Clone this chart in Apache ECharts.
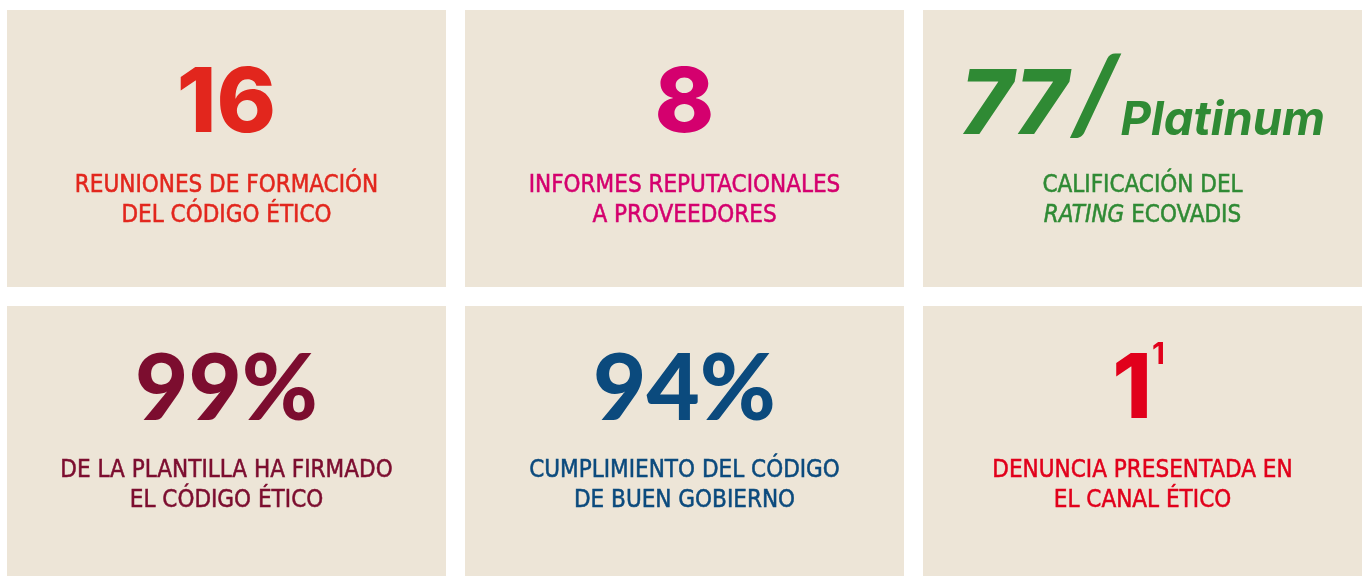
<!DOCTYPE html>
<html>
<head>
<meta charset="utf-8">
<script src="https://cdn.jsdelivr.net/npm/echarts@6/dist/echarts.min.js"></script>
<style>
  html, body { margin: 0; padding: 0; background: #fff; }
  #main { width: 1368px; height: 576px; }
</style>
</head>
<body>
<div id="main"></div>
<script>
// datos de las fichas (columna, fila)
const cols = [0, 1, 2, 0, 1, 2];
const rows = [0, 0, 0, 1, 1, 1];
const values = ['16', '8', '77', '99%', '94%', '1'];
const extras = ['', '', 'Platinum', '', '', '1'];
const labelLine1 = [
  'REUNIONES DE FORMACIÓN',
  'INFORMES REPUTACIONALES',
  'CALIFICACIÓN DEL',
  'DE LA PLANTILLA HA FIRMADO',
  'CUMPLIMIENTO DEL CÓDIGO',
  'DENUNCIA PRESENTADA EN'
];
const labelLine2 = [
  'DEL CÓDIGO ÉTICO',
  'A PROVEEDORES',
  '{i|RATING} ECOVADIS',
  'EL CÓDIGO ÉTICO',
  'DE BUEN GOBIERNO',
  'EL CANAL ÉTICO'
];

const colors = ['#E2261D', '#D4006E', '#2F8A34', '#7C0D2F', '#0B4A7D', '#E1001B'];
const tileColor = '#EDE5D7';
const numFont = 'Inter, Lato, "Noto Sans", sans-serif';
const pctFont = 'Lato, Inter, "Noto Sans", sans-serif';
const labelFont = '"Liberation Sans Narrow", "DejaVu Sans Condensed", "Noto Sans", sans-serif';

const chart = echarts.init(document.getElementById('main'));

const renderItem = (params, api) => {
  const col = api.value(0);
  const row = api.value(1);
  const i = api.value(2);
  const p0 = api.coord([col, row]);
  const p1 = api.coord([col + 1, row + 1]);
  const gap = 19;
  const x = p0[0];
  const y = p0[1];
  const w = p1[0] - p0[0] - gap;
  const h = p1[1] - p0[1] - gap;
  const cx = x + w / 2;
  const c = colors[i];
  const numY = y + (row === 0 ? 92 : 82);
  const lab1 = y + (row === 0 ? 176 : 165);
  const isPct = values[i].indexOf('%') > -1;

  // número grande, con variantes
  let numText = '{n|' + values[i] + '}';
  if (extras[i] === 'Platinum') {
    numText = '{n|' + values[i] + '}{s|/}{p|' + extras[i] + '}';
  } else if (extras[i]) {
    numText = '{n|' + values[i] + '}{sup|' + extras[i] + '}';
  }

  return {
    type: 'group',
    children: [
      {
        type: 'rect',
        shape: { x: x, y: y, width: w, height: h },
        style: { fill: tileColor }
      },
      {
        type: 'text',
        style: {
          text: numText,
          x: extras[i] === '1' ? cx - 4 : cx,
          y: numY,
          align: 'center',
          verticalAlign: 'middle',
          rich: {
            n: {
              fontFamily: isPct ? pctFont : numFont,
              fontWeight: isPct ? 900 : 800,
              fontSize: isPct ? 92 : 90,
              fontStyle: extras[i] === 'Platinum' ? 'italic' : 'normal',
              fill: c, lineHeight: 96, verticalAlign: 'bottom'
            },
            s: {
              fontFamily: pctFont, fontWeight: 900, fontSize: 108, fontStyle: 'italic',
              fill: c, lineHeight: 100, verticalAlign: 'bottom', padding: [0, 2, 0, 4]
            },
            p: {
              fontFamily: numFont, fontWeight: 700, fontSize: 47, fontStyle: 'italic',
              fill: c, lineHeight: 58, verticalAlign: 'bottom', padding: [0, 0, 8, 0]
            },
            sup: {
              fontFamily: numFont, fontWeight: 700, fontSize: 30,
              fill: c, lineHeight: 6, verticalAlign: 'top'
            }
          }
        }
      },
      {
        type: 'text',
        style: {
          text: labelLine1[i], x: cx, y: lab1,
          align: 'center', verticalAlign: 'middle',
          fontFamily: labelFont, fontSize: 24, fill: c,
          stroke: c, lineWidth: 0.5
        }
      },
      {
        type: 'text',
        style: {
          text: labelLine2[i], x: cx, y: lab1 + 30,
          align: 'center', verticalAlign: 'middle',
          fontFamily: labelFont, fontSize: 24, fill: c,
          stroke: c, lineWidth: 0.5,
          rich: {
            i: {
              fontFamily: labelFont, fontSize: 24, fontStyle: 'italic', fill: c,
              stroke: c, lineWidth: 0.5
            }
          }
        }
      }
    ]
  };
};

const options = {
  backgroundColor: '#ffffff',
  animation: false,
  grid: { left: 7, top: 10, width: 1374, height: 592, outerBoundsMode: 'none' },
  xAxis: { type: 'value', min: 0, max: 3, show: false },
  yAxis: { type: 'value', min: 0, max: 2, inverse: true, show: false },
  series: [
    {
      type: 'custom',
      renderItem: renderItem,
      clip: false,
      data: values.map((v, i) => [cols[i], rows[i], i])
    }
  ]
};
chart.setOption(options);
</script>
</body>
</html>
